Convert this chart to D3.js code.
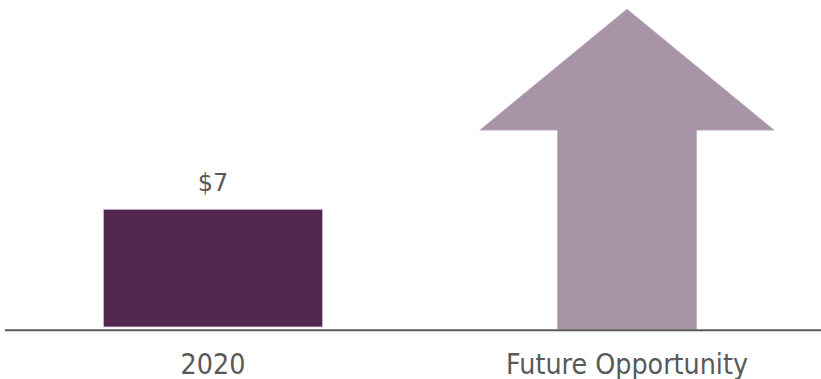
<!DOCTYPE html>
<html>
<head>
<meta charset="utf-8">
<script src="https://cdn.jsdelivr.net/npm/d3@7"></script>
<style>
  html, body { margin: 0; padding: 0; background: #fff; }
  svg { display: block; font-family: "DejaVu Sans", Verdana, sans-serif; }
</style>
</head>
<body>
<svg id="chart" width="821" height="379"></svg>
<script>
// Categories and values (US$)
const categories = ["2020", "Future Opportunity"];
const values = [7, null];            // the future column has no stated value
const valueLabels = ["$7", ""];
const arrowTop = 18.9;               // height reached by the arrow tip
const arrowHeadBase = 11.7;          // where the arrowhead meets the shaft

const W = 821, H = 379;
const svg = d3.select("#chart");

const x = d3.scaleBand()
  .domain(categories)
  .range([6, 834])
  .paddingInner(0.47)
  .paddingOuter(0.235);

const y = d3.scaleLinear()
  .domain([0, arrowTop])
  .range([327, 9]);

// 2020 bar
svg.append("g").selectAll("rect")
  .data(categories.map((c, i) => ({ c, v: values[i] })).filter(d => d.v != null))
  .join("rect")
  .attr("x", d => x(d.c))
  .attr("y", d => y(d.v))
  .attr("width", x.bandwidth())
  .attr("height", d => y(0) - y(d.v))
  .attr("fill", "#52274e")
  .attr("stroke", "#e6d9e4")
  .attr("stroke-width", 0.8);

// value label
svg.append("g").selectAll("text")
  .data(categories.map((c, i) => ({ c, v: values[i], t: valueLabels[i] })).filter(d => d.v != null))
  .join("text")
  .attr("x", d => x(d.c) + x.bandwidth() / 2)
  .attr("y", d => y(d.v) - 18.5)
  .attr("text-anchor", "middle")
  .attr("font-size", 24)
  .attr("fill", "#595959")
  .text(d => d.t);

// Upward arrow for the future opportunity
const fc = categories[1];
const cx = x(fc) + x.bandwidth() / 2;
const shaftHalf = x.bandwidth() * 0.635 / 2;
const headHalf = x.bandwidth() * 1.343 / 2;
const arrowPts = [
  [cx - shaftHalf, y(0) + 2.5],
  [cx - shaftHalf, y(arrowHeadBase)],
  [cx - headHalf, y(arrowHeadBase)],
  [cx, y(arrowTop)],
  [cx + headHalf, y(arrowHeadBase)],
  [cx + shaftHalf, y(arrowHeadBase)],
  [cx + shaftHalf, y(0) + 2.5]
];
svg.append("path")
  .attr("d", d3.line()(arrowPts) + "Z")
  .attr("fill", "#a993a7")
  .attr("stroke", "#c7b8c5")
  .attr("stroke-width", 0.6);

// Baseline axis with category labels
const axis = d3.axisBottom(x).tickSize(0).tickPadding(0);
const gx = svg.append("g")
  .attr("transform", `translate(0,${y(0) + 3.2})`)
  .call(axis);
gx.select(".domain").remove();
gx.append("line")
  .attr("x1", 5).attr("x2", W)
  .attr("y1", 0).attr("y2", 0)
  .attr("stroke", "#5a5a5a")
  .attr("stroke-width", 2);
gx.selectAll(".tick text")
  .attr("dy", null)
  .attr("y", 44.3)
  .attr("transform", "scale(0.91,1)")
  .attr("font-size", 28)
  .attr("font-family", "DejaVu Sans, Verdana, sans-serif")
  .attr("fill", "#595959");
</script>
</body>
</html>
